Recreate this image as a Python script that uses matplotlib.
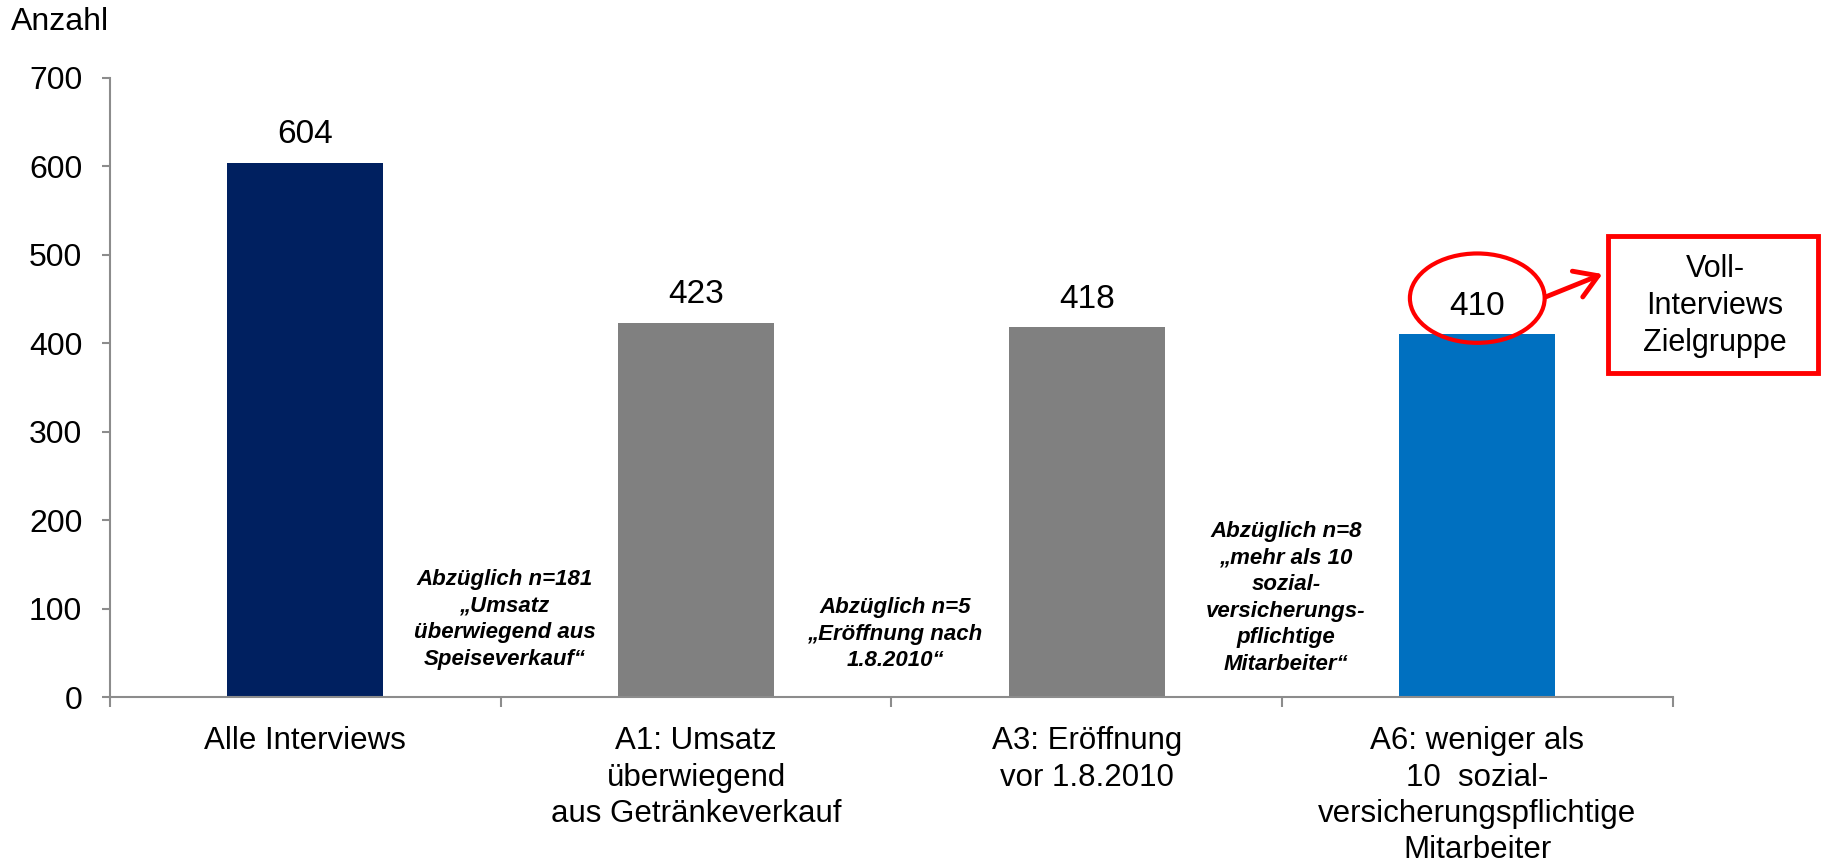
import matplotlib
matplotlib.use("Agg")
import matplotlib.pyplot as plt
from matplotlib.patches import Ellipse, FancyArrowPatch, Rectangle

plt.rcParams['font.family'] = ['Liberation Sans', 'DejaVu Sans']

categories = ["Alle Interviews",
              "A1: Umsatz\nüberwiegend\naus Getränkeverkauf",
              "A3: Eröffnung\nvor 1.8.2010",
              "A6: weniger als\n10  sozial-\nversicherungspflichtige\nMitarbeiter"]
values = [604, 423, 418, 410]
bar_colors = ["#002060", "#808080", "#808080", "#0070C0"]
yticks = [0, 100, 200, 300, 400, 500, 600, 700]

notes = ["Abzüglich n=181\n„Umsatz\nüberwiegend aus\nSpeiseverkauf“",
         "Abzüglich n=5\n„Eröffnung nach\n1.8.2010“",
         "Abzüglich n=8\n„mehr als 10\nsozial-\nversicherungs-\npflichtige\nMitarbeiter“"]
note_x = [0.51, 1.51, 2.51]
note_y = [88, 71, 112]

fig = plt.figure(figsize=(18.22, 8.65), dpi=100)
ax = fig.add_axes([0.0604, 0.194, 0.8576, 0.716])

x = list(range(len(values)))
ax.bar(x, values, width=0.4, color=bar_colors, zorder=2)
for xi, v in zip(x, values):
    ax.text(xi, v + 32, str(v), ha='center', va='center', fontsize=24)

for nx, ny, t in zip(note_x, note_y, notes):
    ax.text(nx, ny, t, ha='center', va='center', fontsize=16,
            fontweight='bold', fontstyle='italic', linespacing=1.35)

ax.set_xlim(-0.5, 3.5)
ax.set_ylim(0, 700)
ax.set_yticks(yticks)
ax.set_yticklabels([str(t) for t in yticks], fontsize=23)
ax.set_xticks(x)
ax.set_xticklabels(categories, fontsize=22.5, linespacing=1.27)
ax.set_xticks([-0.5, 0.5, 1.5, 2.5, 3.5], minor=True)
ax.tick_params(axis='x', which='major', length=0, pad=21)
ax.tick_params(axis='x', which='minor', length=7, width=1.5, color='#8c8c8c', direction='out')
ax.tick_params(axis='y', length=6, width=1.5, color='#8c8c8c', pad=14)
for s in ['top', 'right']:
    ax.spines[s].set_visible(False)
for s in ['left', 'bottom']:
    ax.spines[s].set_color('#8c8c8c')
    ax.spines[s].set_linewidth(1.5)

# ellipse highlight around last label
ax.add_patch(Ellipse((3, 451), 0.345, 101, fill=False, edgecolor='#FF0000',
                     linewidth=3, zorder=5, clip_on=False))

# red box
box = Rectangle((0.8825, 0.5688), 0.1155, 0.1584, transform=fig.transFigure,
                fill=False, edgecolor='#FF0000', linewidth=3.5)
fig.patches.append(box)
fig.text(0.9413, 0.646, "Voll-\nInterviews\nZielgruppe", ha='center', va='center',
         fontsize=22, linespacing=1.3)

arr = FancyArrowPatch((0.8469, 0.6555), (0.8809, 0.6844), transform=fig.transFigure,
                      arrowstyle='->,head_length=0.8,head_width=0.5', color='#FF0000',
                      linewidth=3.5, mutation_scale=20)
fig.patches.append(arr)

fig.text(0.006, 1 - 22 / 865, "Anzahl", ha='left', va='center', fontsize=23)

fig.savefig("out.png", dpi=100)
